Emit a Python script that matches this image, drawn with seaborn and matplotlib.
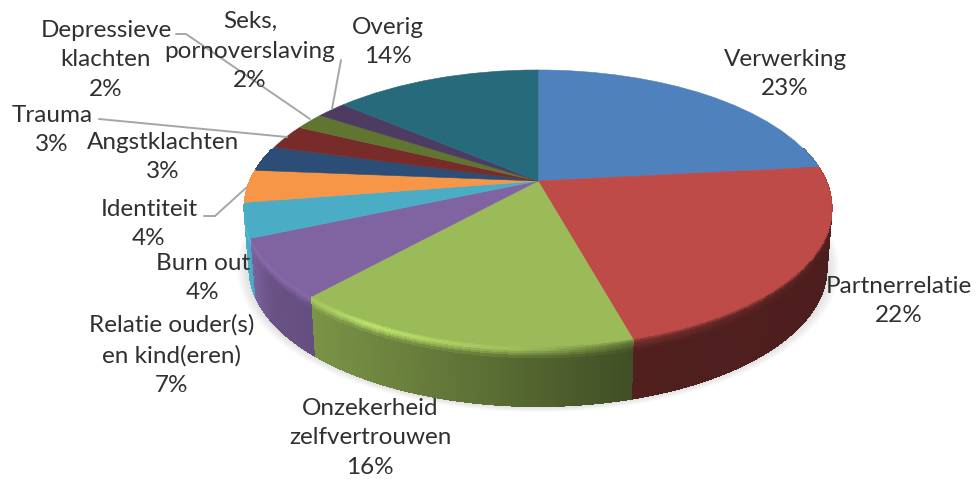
import numpy as np
import matplotlib
matplotlib.use("Agg")
import matplotlib.pyplot as plt
from matplotlib.collections import PolyCollection
from matplotlib.transforms import Transform
import seaborn as sns

# ---- data ----
categories = ["Verwerking", "Partnerrelatie", "Onzekerheid\nzelfvertrouwen",
              "Relatie ouder(s)\nen kind(eren)", "Burn out", "Identiteit",
              "Angstklachten", "Trauma", "Depressieve\nklachten",
              "Seks,\npornoverslaving", "Overig"]
values = [23.3, 22.4, 16.0, 6.8, 4.0, 3.8, 3.0, 2.9, 2.0, 2.0, 13.8]
percent_labels = ["23%", "22%", "16%", "7%", "4%", "4%", "3%", "3%", "2%", "2%", "14%"]
slice_hex = ["#4F81BD", "#BE4B48", "#9BBB59", "#8064A2", "#4BACC6", "#F79646",
             "#2C4D75", "#772C2A", "#5F7530", "#4D3B62", "#276A7C"]

# label centres in image pixels
label_x = [785, 899, 370, 172, 203, 149, 163, 52, 106, 250, 388]
label_y = [73, 300, 437, 354, 277, 223, 156, 129, 59, 50, 41]

leader_lines = [
    ([176, 186, 310], [34, 34, 119]),
    ([341, 332], [60, 109]),
    ([99, 287], [119, 137]),
    ([204, 215, 247], [216, 216, 187]),
]

# ---- projection of the pie plane to the image ----
APEX_X, APEX_Y = 538.0, 181.0
SCALE_X, SCALE_Y, PERSP = 288.0, 132.8, 0.196
DEPTH = 60.0
BOTTOM_SHRINK = 0.983


def project(X, Y):
    den = 1 + PERSP * Y
    return APEX_X + SCALE_X * X / den, APEX_Y - SCALE_Y * Y / den


class PlaneToImage(Transform):
    input_dims = output_dims = 2
    is_affine = False
    has_inverse = False

    def transform_non_affine(self, values):
        v = np.asarray(values, dtype=float)
        x, y = project(v[:, 0], v[:, 1])
        return np.column_stack([x, y])


sns.set_theme(style="white")
plt.rcParams["font.family"] = ["Lato", "DejaVu Sans"]
palette = sns.color_palette(slice_hex)

fig = plt.figure(figsize=(9.79, 4.83), dpi=100, facecolor="white")
ax = fig.add_axes([0, 0, 1, 1])

wedges, _ = ax.pie(values, colors=palette, startangle=90, counterclock=False,
                   wedgeprops=dict(linewidth=0.4, zorder=5))
for w, c in zip(wedges, palette):
    w.set_edgecolor(c)
    w.set_transform(PlaneToImage() + ax.transData)

ax.set_aspect("auto")
ax.set_xlim(0, 979)
ax.set_ylim(483, 0)
ax.axis("off")

# ---- soft shadow under the bottom rim ----
t = np.radians(np.linspace(0, 360, 361))
rx, ry = project(np.cos(t), np.sin(t))
bx = APEX_X + (rx - APEX_X) * BOTTOM_SHRINK
by = ry + DEPTH
cx, cy = APEX_X, by.min() + (by.max() - by.min()) / 2
for s in np.linspace(1.0, 1.045, 12):
    ax.fill(cx + (bx - cx) * s, cy + (by - cy) * s, color="black", alpha=0.012,
            lw=0, zorder=1)

# ---- side wall with shading ----
shade_x = [240, 250, 270, 320, 480, 630, 840]
shade_v = [1.05, 0.98, 0.82, 0.78, 0.60, 0.42, 0.40]
glow_x = [240, 300, 370, 520, 630, 840]
glow_v = [1.10, 1.03, 1.25, 1.03, 0.62, 0.42]
offsets = np.array([0, 1.5, 3, 4.5, 6, 8, 10, 13, 60.0])


def at(x, d):
    return APEX_X + (x - APEX_X) * (1 - (1 - BOTTOM_SHRINK) * d / DEPTH)


columns = []
for w, c in zip(wedges, palette):
    base = np.array(c)
    n = max(2, 2 * int(abs(w.theta2 - w.theta1)) + 1)
    th = np.radians(np.linspace(w.theta1, w.theta2, n + 1))
    for a0, a1 in zip(th[:-1], th[1:]):
        if np.sin((a0 + a1) / 2) > 0.25:
            continue
        x0, y0 = project(np.cos(a0), np.sin(a0))
        x1, y1 = project(np.cos(a1), np.sin(a1))
        columns.append(((y0 + y1) / 2, x0, y0, x1, y1, base))

# far columns first, so nearer slices hide the walls behind them
columns.sort(key=lambda col: col[0])
polys, cols = [], []
for _, x0, y0, x1, y1, base in columns:
    xm = (x0 + x1) / 2
    sh = np.interp(xm, shade_x, shade_v)
    gl = np.interp(xm, glow_x, glow_v)
    for d0, d1 in zip(offsets[:-1], offsets[1:]):
        dm = (d0 + d1) / 2
        if dm <= 4.5:
            f = 1 + (gl - 1) * dm / 4.5
        elif dm <= 13:
            f = gl + (sh - gl) * (dm - 4.5) / 8.5
        else:
            f = sh
        polys.append([(at(x0, d0), y0 + d0), (at(x1, d0), y1 + d0),
                      (at(x1, d1), y1 + d1), (at(x0, d1), y0 + d1)])
        cols.append(np.clip(base * f, 0, 1))
ax.add_collection(PolyCollection(polys, facecolors=cols, edgecolors=cols,
                                 linewidths=0.6, antialiaseds=False, zorder=3))

# ---- labels and leader lines ----
for lx, ly in leader_lines:
    ax.plot(lx, ly, color="#A6A6A6", lw=1.4, zorder=6, solid_joinstyle="miter")

for name, pct, x, y in zip(categories, percent_labels, label_x, label_y):
    ax.text(x, y + 1, f"{name}\n{pct}", ha="center", va="center", ma="center",
            fontsize=17.5, color="#303030", linespacing=1.5, zorder=7)

fig.savefig("out.png", dpi=100, facecolor="white")
